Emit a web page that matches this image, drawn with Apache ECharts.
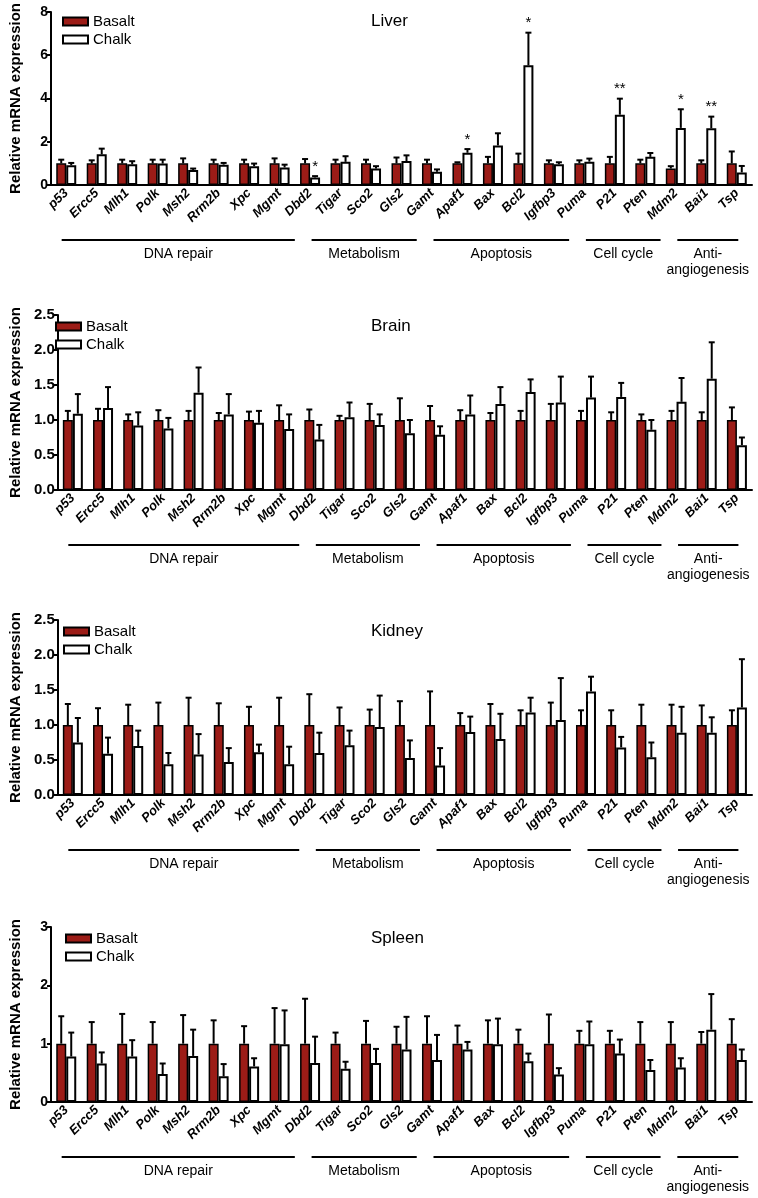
<!DOCTYPE html>
<html>
<head>
<meta charset="utf-8">
<script src="https://cdn.jsdelivr.net/npm/echarts@6/dist/echarts.min.js"></script>
<style>
html,body{margin:0;padding:0;background:#fff;}
#c{width:758px;height:1198px;}
</style>
</head>
<body>
<div id="c"></div>
<script>
// ---------- DATA ----------
const categories = ['p53','Ercc5','Mlh1','Polk','Msh2','Rrm2b','Xpc','Mgmt','Dbd2','Tigar','Sco2','Gls2','Gamt','Apaf1','Bax','Bcl2','Igfbp3','Puma','P21','Pten','Mdm2','Bai1','Tsp'];
const tissues = ['Liver','Brain','Kidney','Spleen'];
const seriesNames = ['Basalt','Chalk'];

const yMax = [8, 2.5, 2.5, 3];
const yInterval = [2, 0.5, 0.5, 1];
const yDecimals = [0, 1, 1, 0];

// Liver
const liverBasalt    = [1,1,1,1,1,1,1,1,1,1,1,1,1,1,1,1,1,1,1,1,0.76,1,1];
const liverBasaltErr = [1.17,1.14,1.17,1.17,1.23,1.17,1.17,1.23,1.20,1.17,1.17,1.27,1.17,1.05,1.30,1.45,1.14,1.14,1.30,1.17,0.87,1.14,1.55];
const liverChalk     = [0.91,1.42,0.96,0.99,0.69,0.94,0.87,0.81,0.35,1.07,0.76,1.11,0.61,1.49,1.83,5.53,0.96,1.08,3.25,1.30,2.64,2.62,0.58];
const liverChalkErr  = [1.02,1.68,1.10,1.17,0.76,1.02,0.99,0.94,0.41,1.33,0.87,1.37,0.72,1.66,2.39,7.04,1.05,1.22,3.99,1.48,3.50,3.16,0.88];
const liverStars     = ['','','','','','','','','*','','','','','*','','*','','','**','','*','**',''];

// Brain
const brainBasalt    = [1,1,1,1,1,1,1,1,1,1,1,1,1,1,1,1,1,1,1,1,1,1,1];
const brainBasaltErr = [1.13,1.16,1.08,1.14,1.13,1.10,1.12,1.21,1.15,1.06,1.23,1.31,1.20,1.14,1.10,1.13,1.23,1.13,1.11,1.08,1.13,1.11,1.18];
const brainChalk     = [1.09,1.17,0.92,0.88,1.39,1.08,0.96,0.87,0.72,1.04,0.93,0.81,0.79,1.08,1.23,1.40,1.25,1.32,1.33,0.86,1.26,1.59,0.64];
const brainChalkErr  = [1.37,1.47,1.11,1.03,1.75,1.37,1.13,1.08,0.93,1.25,1.08,1.00,0.91,1.35,1.47,1.58,1.62,1.62,1.53,1.00,1.60,2.11,0.75];

// Kidney
const kidneyBasalt    = [1,1,1,1,1,1,1,1,1,1,1,1,1,1,1,1,1,1,1,1,1,1,1];
const kidneyBasaltErr = [1.30,1.24,1.29,1.32,1.39,1.31,1.26,1.39,1.44,1.25,1.22,1.34,1.48,1.17,1.30,1.21,1.32,1.21,1.21,1.29,1.29,1.28,1.21];
const kidneyChalk     = [0.75,0.59,0.70,0.44,0.58,0.47,0.61,0.44,0.60,0.71,0.97,0.53,0.42,0.90,0.80,1.18,1.07,1.48,0.68,0.54,0.89,0.89,1.25];
const kidneyChalkErr  = [1.10,0.82,0.92,0.60,0.87,0.67,0.72,0.69,0.89,0.92,1.42,0.78,0.67,1.12,1.16,1.39,1.67,1.69,0.83,0.75,1.26,1.11,1.94];

// Spleen
const spleenBasalt    = [1,1,1,1,1,1,1,1,1,1,1,1,1,1,1,1,1,1,1,1,1,1,1];
const spleenBasaltErr = [1.47,1.37,1.51,1.37,1.49,1.40,1.30,1.61,1.77,1.19,1.39,1.29,1.47,1.31,1.40,1.24,1.50,1.22,1.22,1.37,1.37,1.20,1.42];
const spleenChalk     = [0.78,0.66,0.78,0.48,0.79,0.44,0.61,0.99,0.67,0.57,0.67,0.90,0.72,0.90,0.99,0.70,0.47,0.99,0.83,0.55,0.59,1.24,0.72];
const spleenChalkErr  = [1.19,0.85,1.06,0.66,1.24,0.65,0.75,1.57,1.12,0.69,0.91,1.46,1.15,1.03,1.43,0.83,0.58,1.38,1.07,0.72,0.75,1.85,0.90];

// Gene groups (first / last category index)
const groupNames = ['DNA repair','Metabolism','Apoptosis','Cell cycle','Anti-\nangiogenesis'];
const groupFirst = [0, 9, 13, 18, 21];
const groupLast  = [8, 12, 17, 20, 22];

const panelData = [
  {b: liverBasalt,  be: liverBasaltErr,  c: liverChalk,  ce: liverChalkErr,  stars: liverStars},
  {b: brainBasalt,  be: brainBasaltErr,  c: brainChalk,  ce: brainChalkErr,  stars: null},
  {b: kidneyBasalt, be: kidneyBasaltErr, c: kidneyChalk, ce: kidneyChalkErr, stars: null},
  {b: spleenBasalt, be: spleenBasaltErr, c: spleenChalk, ce: spleenChalkErr, stars: null}
];

// ---------- LAYOUT ----------
const FONT = '"Liberation Sans", Arial, Helvetica, sans-serif';
const gridTops = [10, 315, 620, 927];
const gridH = 175;
const gridLeft = 44, gridRight = 6;
const BAR_W = 10;
const RED = '#9C1C17';

function errRender(sign, stars) {
  return function (params, api) {
    const i = api.value(0);
    const v = api.value(1);
    const e = api.value(2);
    const p0 = api.coord([i, v]);
    const p1 = api.coord([i, e]);
    const x = p0[0] + sign * BAR_W / 2;
    const children = [
      {type: 'line', shape: {x1: x, y1: p0[1], x2: x, y2: p1[1]}, style: {stroke: '#000', lineWidth: 2}},
      {type: 'line', shape: {x1: x - 3, y1: p1[1], x2: x + 3, y2: p1[1]}, style: {stroke: '#000', lineWidth: 2}}
    ];
    if (stars && stars[params.dataIndex]) {
      children.push({type: 'text', style: {x: x, y: p1[1] - 2, text: stars[params.dataIndex], align: 'center', verticalAlign: 'bottom', fontSize: 15, fontFamily: FONT, fill: '#000'}});
    }
    return {type: 'group', children: children};
  };
}

function groupRender(params, api) {
  const first = api.value(0);
  const last = api.value(1);
  const x0 = api.coord([0, 0])[0];
  const yBase = api.coord([0, 0])[1];
  const step = api.size([1, 0])[0];
  const s = Math.max(first - 0.95, -0.15);
  const e = (last === categories.length - 1) ? last + 0.05 : last - 0.5;
  const xs = x0 + s * step, xe = x0 + e * step;
  return {type: 'group', children: [
    {type: 'line', shape: {x1: xs, y1: yBase + 55, x2: xe, y2: yBase + 55}, style: {stroke: '#000', lineWidth: 2}},
    {type: 'text', style: {x: (xs + xe) / 2, y: yBase + 61, text: groupNames[params.dataIndex], align: 'center', verticalAlign: 'top', fontSize: 14, lineHeight: 16, fontFamily: FONT, fill: '#000'}}
  ]};
}

const grid = [], xAxis = [], yAxis = [], series = [], title = [], legend = [];
const legendLeft = [57, 50, 58, 60];

tissues.forEach((t, g) => {
  grid.push({left: gridLeft, right: gridRight, top: gridTops[g], height: gridH});
  title.push({text: t, left: 366, top: gridTops[g] - 2, textStyle: {fontSize: 17, fontWeight: 'normal', color: '#000', fontFamily: FONT}});
  legend.push({data: seriesNames, orient: 'vertical', left: legendLeft[g], top: gridTops[g] - 1, icon: 'rect',
    itemWidth: 25, itemHeight: 8, itemGap: 3, selectedMode: false,
    textStyle: {fontSize: 15, color: '#000', fontFamily: FONT}});
  xAxis.push({type: 'category', gridIndex: g, data: categories,
    axisLine: {lineStyle: {color: '#000', width: 2}},
    axisTick: {alignWithLabel: true, length: 5, lineStyle: {color: '#000', width: 1.5}},
    axisLabel: {rotate: 45, interval: 0, margin: 6, fontSize: 13, fontWeight: 'bold', fontStyle: 'italic', color: '#000', fontFamily: FONT}
  });
  yAxis.push({type: 'value', gridIndex: g, min: 0, max: yMax[g], interval: yInterval[g],
    name: 'Relative mRNA expression', nameLocation: 'middle', nameGap: 28,
    nameTextStyle: {fontSize: 15, fontWeight: 'bold', color: '#000', fontFamily: FONT},
    axisLine: {show: true, lineStyle: {color: '#000', width: 2}},
    axisTick: {show: true, length: 4, lineStyle: {color: '#000', width: 2}},
    splitLine: {show: false},
    axisLabel: {fontSize: yDecimals[g] ? 15 : 14, fontWeight: 'bold', color: '#000', margin: 3, fontFamily: FONT,
      formatter: (v) => v.toFixed(yDecimals[g])}
  });
  const d = panelData[g];
  series.push({name: 'Basalt', type: 'bar', xAxisIndex: g, yAxisIndex: g, data: d.b, barWidth: BAR_W, barGap: '0%',
    itemStyle: {color: RED, borderColor: '#000', borderWidth: 1.5}, silent: true});
  series.push({name: 'Chalk', type: 'bar', xAxisIndex: g, yAxisIndex: g, data: d.c, barWidth: BAR_W, barGap: '0%',
    itemStyle: {color: '#fff', borderColor: '#000', borderWidth: 2}, silent: true});
  series.push({name: 'errB' + g, type: 'custom', xAxisIndex: g, yAxisIndex: g, silent: true, z: 1,
    data: d.b.map((v, i) => [i, v, d.be[i]]), renderItem: errRender(-1, null)});
  series.push({name: 'errC' + g, type: 'custom', xAxisIndex: g, yAxisIndex: g, silent: true, z: 1,
    data: d.c.map((v, i) => [i, v, d.ce[i]]), renderItem: errRender(1, d.stars)});
  series.push({name: 'groups' + g, type: 'custom', xAxisIndex: g, yAxisIndex: g, silent: true, clip: false,
    data: groupFirst.map((f, k) => [f, groupLast[k]]), renderItem: groupRender});
});

const chart = echarts.init(document.getElementById('c'), null, {renderer: 'canvas'});
chart.setOption({
  animation: false,
  textStyle: {fontFamily: FONT},
  title, legend, grid, xAxis, yAxis, series
});
</script>
</body>
</html>
